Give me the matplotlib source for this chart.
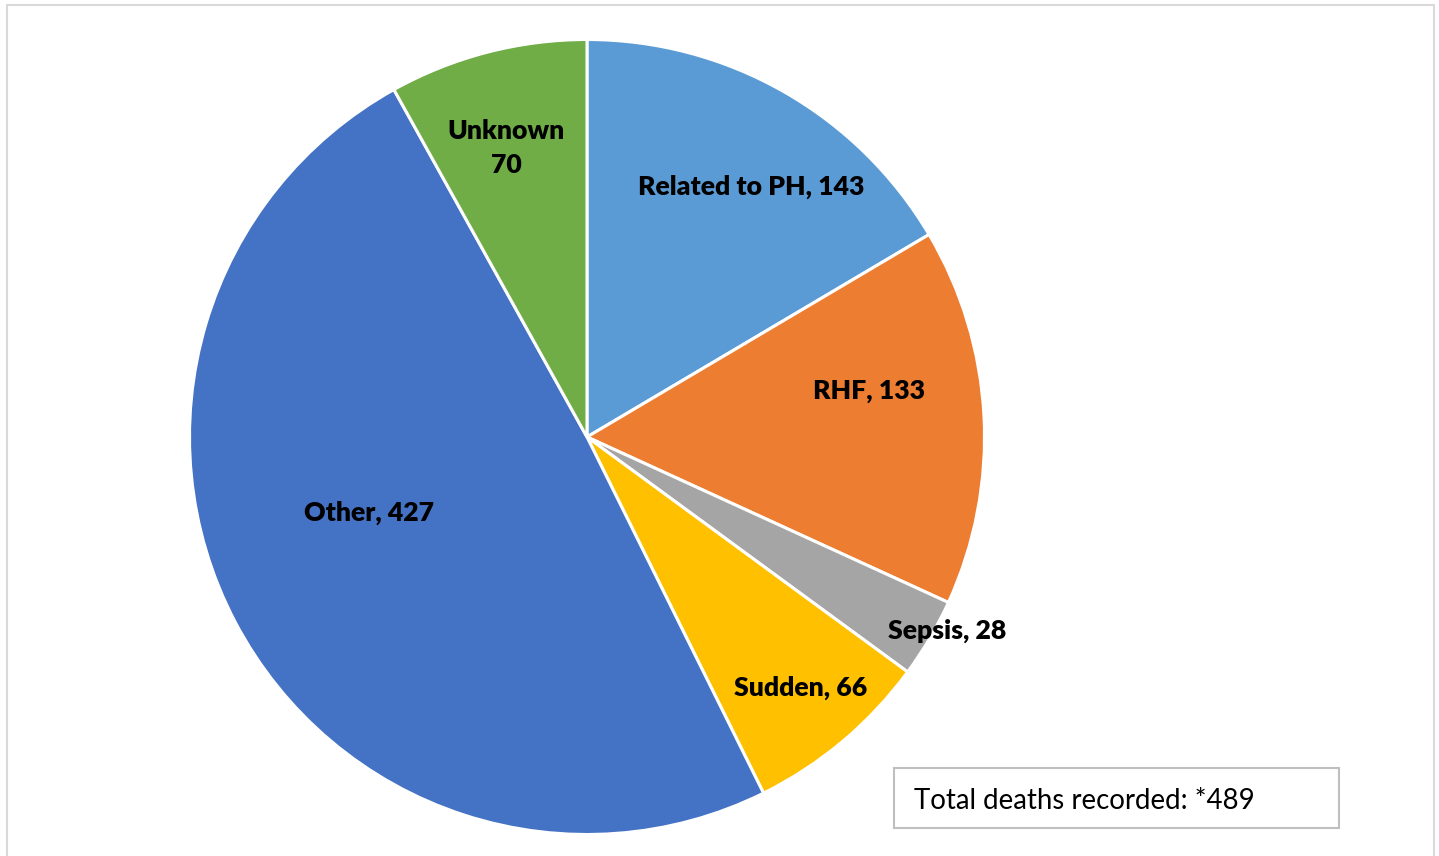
import matplotlib
matplotlib.use("Agg")
import matplotlib.pyplot as plt
from matplotlib.patches import Rectangle
import numpy as np

categories = ["Related to PH", "RHF", "Sepsis", "Sudden", "Other", "Unknown"]
values = [143, 133, 28, 66, 427, 70]
label_texts = ["Related to PH, 143", "RHF, 133", "Sepsis, 28", "Sudden, 66", "Other, 427", "Unknown\n70"]
colors = ["#5B9BD5", "#ED7D31", "#A5A5A5", "#FFC000", "#4472C4", "#70AD47"]
total_text = "Total deaths recorded: *489"

# label placement (radius fraction, angle offset in degrees)
label_r = [0.752, 0.72, 1.03, 0.828, 0.58, 0.755]
label_dang = [-3.6, 6.3, 2.1, 0.4, -8.4, 1.1]

plt.rcParams['font.family'] = ['Lato', 'DejaVu Sans']

fig = plt.figure(figsize=(14.39, 8.56), dpi=100)
W, H = 1439, 856
cx, cy, R = 587, 437, 397.5
ax = fig.add_axes([(cx - R) / W, (H - cy - R) / H, 2 * R / W, 2 * R / H])

wedges, _ = ax.pie(values, colors=colors, startangle=90, counterclock=False,
                   radius=1.0, wedgeprops=dict(edgecolor='white', linewidth=2.2))
ax.set_xlim(-1, 1)
ax.set_ylim(-1, 1)
ax.set_aspect('auto')
ax.axis('off')

for w, txt, rf, da in zip(wedges, label_texts, label_r, label_dang):
    ang = np.deg2rad((w.theta1 + w.theta2) / 2 + da)
    ax.text(rf * np.cos(ang), rf * np.sin(ang), txt, ha='center', va='center',
            fontsize=19.2, fontweight='heavy', color='black', linespacing=1.5,
            clip_on=False)

# outer border
fig.patches.append(Rectangle((6.5 / W, -0.05), (1434 - 6.5) / W, 1.05 - 5.5 / H,
                             transform=fig.transFigure, fill=False,
                             edgecolor='#D9D9D9', linewidth=1.5))
# total box
fig.patches.append(Rectangle((894 / W, (H - 828) / H), (1339 - 894) / W, 60 / H,
                             transform=fig.transFigure, facecolor='white',
                             edgecolor='#BFBFBF', linewidth=1.5))
fig.text(914 / W, (H - 801) / H, total_text, ha='left', va='center',
         fontsize=19.9, color='black', fontweight='normal')

fig.savefig("out.png", dpi=100)
